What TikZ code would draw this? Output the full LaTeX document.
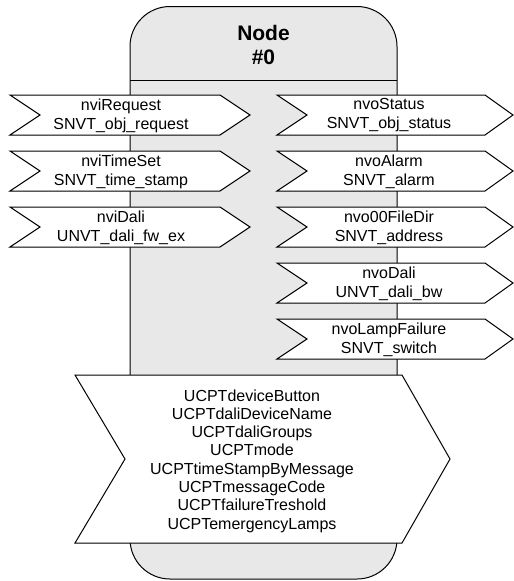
\documentclass[tikz,border=0pt]{standalone}
\usepackage{fontspec}
\setmainfont{Liberation Sans}
\begin{document}
\begin{tikzpicture}[x=1pt,y=-1pt,
  chev/.style={draw=black,fill=white,line width=1pt,line join=miter},
  body/.style={draw=black,fill=black!9,line width=1pt,rounded corners=40pt},
  lbl/.style={align=center,font=\fontsize{16}{19}\selectfont,inner sep=0pt},
  ttl/.style={align=center,font=\fontsize{21}{24}\selectfont\bfseries,inner sep=0pt}]
\useasboundingbox (0,0) rectangle (514,581);
\draw[body] (130,6.5) rectangle (397,579);
\coordinate (sepL) at (130,80);
\coordinate (sepR) at (397,80);
\draw[line width=1pt] (sepL) -- (sepR);
\node[ttl] (title) at (263.5,45) {Node\\\#0};
% input chevrons
\foreach \t/\nm/\a/\b in {95/in1/nviRequest/SNVT\_obj\_request,151/in2/nviTimeSet/SNVT\_time\_stamp,207/in3/nviDali/UNVT\_dali\_fw\_ex}{
  \draw[chev] (10,\t) -- (220,\t) -- (250,\t+20) -- (220,\t+40) -- (10,\t+40) -- (40,\t+20) -- cycle;
  \node[lbl] (\nm) at (121,\t+20.5) {\a\\\b};
}
% output chevrons
\foreach \t/\nm/\a/\b in {95/out1/nvoStatus/SNVT\_obj\_status,151/out2/nvoAlarm/SNVT\_alarm,207/out3/nvo00FileDir/SNVT\_address,263/out4/nvoDali/UNVT\_dali\_bw,319/out5/nvoLampFailure/SNVT\_switch}{
  \draw[chev] (277,\t) -- (485,\t) -- (513,\t+20) -- (485,\t+40) -- (277,\t+40) -- (307,\t+20) -- cycle;
  \node[lbl] (\nm) at (389,\t+20.5) {\a\\\b};
}
% configuration chevron
\draw[chev] (75,375) -- (402,375) -- (450,459) -- (402,543) -- (75,543) -- (125,459) -- cycle;
\node[lbl,font=\fontsize{16}{18.3}\selectfont] (cfg) at (252,461) {UCPTdeviceButton\\UCPTdaliDeviceName\\UCPTdaliGroups\\UCPTmode\\UCPTtimeStampByMessage\\UCPTmessageCode\\UCPTfailureTreshold\\UCPTemergencyLamps};
\end{tikzpicture}
\end{document}
